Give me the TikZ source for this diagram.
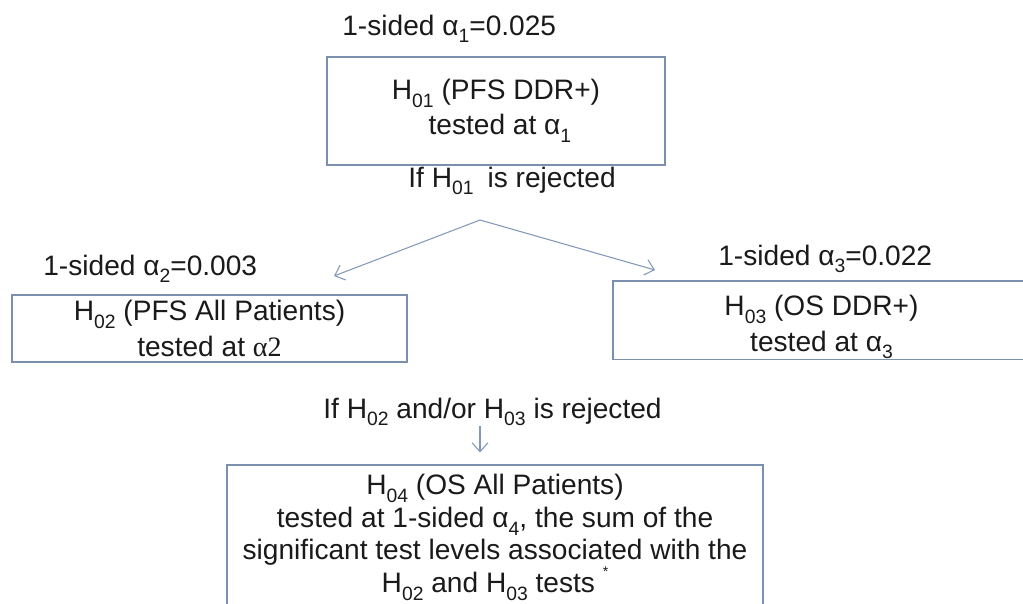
\documentclass[tikz,border=0pt]{standalone}
\usepackage{fontspec}
\setmainfont{Liberation Sans}
\newfontfamily\timesfont{Liberation Serif}
\usetikzlibrary{arrows.meta, positioning, calc}
\definecolor{flowText}{HTML}{1A1A1A}
\definecolor{flowLine}{HTML}{7A90AE}
\definecolor{flowArrow}{HTML}{8399BA}
\newcommand{\hidx}[1]{\raisebox{-0.28em}{\fontsize{11}{12}\selectfont #1}}
\newcommand{\hstar}{\raisebox{0.55em}{\fontsize{8}{9}\selectfont *}}

\begin{document}
\begin{tikzpicture}[
    x=0.02cm, y=-0.02cm,
    font=\fontsize{16}{18.5}\selectfont,
    text=flowText,
    hyp/.style={
        draw=flowLine,
        line width=0.75pt,
        align=center,
        inner sep=0pt
    },
    level/.style={anchor=base west, inner sep=0pt},
    arrow/.style={-{Straight Barb[length=5pt,width=9pt]}, line width=0.6pt, draw=flowArrow},
]
\fill[white] (0,0) rectangle (1023,603);
\useasboundingbox (0,0) rectangle (1023,603);

% first hypothesis
\node[level] (lvl1) at (342,35) {1-sided α\hidx{1}=0.025};
\node[hyp, minimum width=6.76cm, minimum height=2.16cm] (h01) at (496,111) {
    H\hidx{01} (PFS DDR+)\\[1.5pt]
    \ tested at α\hidx{1}
};
\node[level] (cond1) at (408,187) {If H\hidx{01}\hspace{0.5em}is rejected};

% split
\coordinate (fork) at (480,220);
\coordinate (tipL) at (334,276);
\coordinate (tipR) at (655,270);
\draw[arrow] (fork) -- (tipL);
\draw[arrow] (fork) -- (tipR);

% second level
\node[level] (lvl2) at (43,275) {1-sided α\hidx{2}=0.003};
\node[hyp, minimum width=7.9cm, minimum height=1.34cm] (h02) at (209.5,328.5) {
    H\hidx{02} (PFS All Patients)\\[1.5pt]
    tested at {\timesfont α2}
};
\node[level] (lvl3) at (718,265) {1-sided α\hidx{3}=0.022};
\node[hyp, minimum width=8.34cm, minimum height=1.24cm] (h03) at (821.5,320) {
    \rule{0pt}{20pt}H\hidx{03} (OS DDR+)\\[1.5pt]
    tested at α\hidx{3}
};

% last hypothesis
\node[level] (cond2) at (323,418) {If H\hidx{02} and/or H\hidx{03} is rejected};
\node[hyp, minimum width=10.72cm, minimum height=2.9cm] (h04) at (495,537.5) {
    H\hidx{04} (OS All Patients)\\
    tested at 1-sided α\hidx{4}, the sum of the\\
    significant test levels associated with the\\
    H\hidx{02} and H\hidx{03} tests \hstar
};
\draw[arrow, shorten >=6.8pt] (cond2.south -| fork) -- (h04.north -| fork);

\end{tikzpicture}
\end{document}
